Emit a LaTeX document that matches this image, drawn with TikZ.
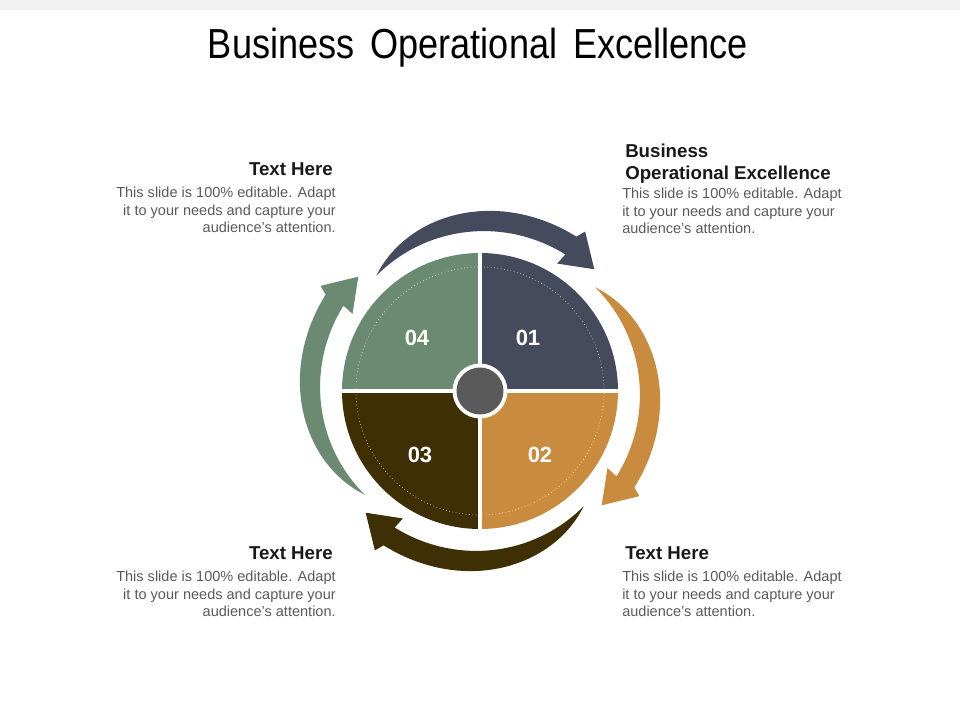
\documentclass[tikz,border=0pt]{standalone}
\usepackage{fontspec}
\setmainfont{Liberation Sans}
\newfontfamily\titlefont[FakeStretch=0.86, WordSpace=1.6]{Liberation Sans}
\usepackage{xcolor}

\definecolor{navy}{HTML}{454A5C}
\definecolor{ochre}{HTML}{C98C3E}
\definecolor{umber}{HTML}{3E2F05}
\definecolor{sage}{HTML}{6A8B71}
\definecolor{hub}{HTML}{5A5A5A}
\definecolor{bodytext}{HTML}{595959}
\definecolor{topbar}{HTML}{F2F2F2}

\tikzset{
  heading/.style={font=\bfseries\fontsize{14}{16.5}\selectfont, text=black!90, inner sep=0pt},
  bodyblock/.style={font=\fontsize{10.9}{13.1}\selectfont, text=bodytext, inner sep=0pt},
  quadnum/.style={font=\bfseries\fontsize{16.5}{18}\selectfont, text=white, inner sep=0pt},
}

\begin{document}
\begin{tikzpicture}[x=0.75pt, y=0.75pt,
    declare function={ro(\t)=155+27*(1-((\t-58)/74)*((\t-58)/74)*((\t-58)/74));
                      ri(\t)=161-6*((\t-58)/74)*((\t-58)/74);}]

    \useasboundingbox (-480,-329) rectangle (480,391);
    \fill[topbar] (-480,381) rectangle (480,391);

    % Title
    \node[font=\titlefont\fontsize{31.5}{36}\selectfont, inner sep=0pt] (title) at (-2,343) {Business Operational Excellence};

    % Curved arrows round the circle
    \foreach \ang/\col in {0/navy, -90/ochre, -180/umber, -270/sage}
      \fill[\col, rotate=\ang] (132:155) -- plot[domain=132:58, samples=40] (\x:{ro(\x)})
        -- (56.6:191) -- (46.8:167) -- (58.8:149)
        -- plot[domain=58:132, samples=40] (\x:{ri(\x)}) -- cycle;

    % Quadrants
    \fill[navy] (0,0) -- (0:138) arc (0:90:138) -- cycle;
    \fill[sage] (0,0) -- (90:138) arc (90:180:138) -- cycle;
    \fill[umber] (0,0) -- (180:138) arc (180:270:138) -- cycle;
    \fill[ochre] (0,0) -- (270:138) arc (270:360:138) -- cycle;
    \draw[white, dotted, line width=0.5pt, opacity=0.8] (0,0) circle (124);
    \draw[white, line width=3pt] (-140,0) -- (140,0);
    \draw[white, line width=3pt] (0,-140) -- (0,140);

    % Hub
    \fill[white] (0,0) circle (27.5);
    \fill[hub] (0,0) circle (23.5);

    % Numbers
    \node[quadnum] (n04) at (-63,53) {04};
    \node[quadnum] (n01) at (48,53) {01};
    \node[quadnum] (n03) at (-60,-64) {03};
    \node[quadnum] (n02) at (60,-64) {02};

    % Top left
    \node[heading, anchor=east] (tlhead) at (-147,222) {Text Here};
    \node[bodyblock, anchor=north east, align=right] (tlbody) at (-144,204)
      {This slide is 100\% editable. Adapt\\it to your needs and capture your\\audience's attention.};

    % Top right
    \node[heading, anchor=north west, align=left] (trhead) at (145,247)
      {Business\\Operational Excellence};
    \node[bodyblock, anchor=north west, align=left] (trbody) at (142,203)
      {This slide is 100\% editable. Adapt\\it to your needs and capture your\\audience's attention.};

    % Bottom left
    \node[heading, anchor=east] (blhead) at (-147,-162) {Text Here};
    \node[bodyblock, anchor=north east, align=right] (blbody) at (-144,-180)
      {This slide is 100\% editable. Adapt\\it to your needs and capture your\\audience's attention.};

    % Bottom right
    \node[heading, anchor=west] (brhead) at (145,-162) {Text Here};
    \node[bodyblock, anchor=north west, align=left] (brbody) at (142,-180)
      {This slide is 100\% editable. Adapt\\it to your needs and capture your\\audience's attention.};
\end{tikzpicture}
\end{document}
